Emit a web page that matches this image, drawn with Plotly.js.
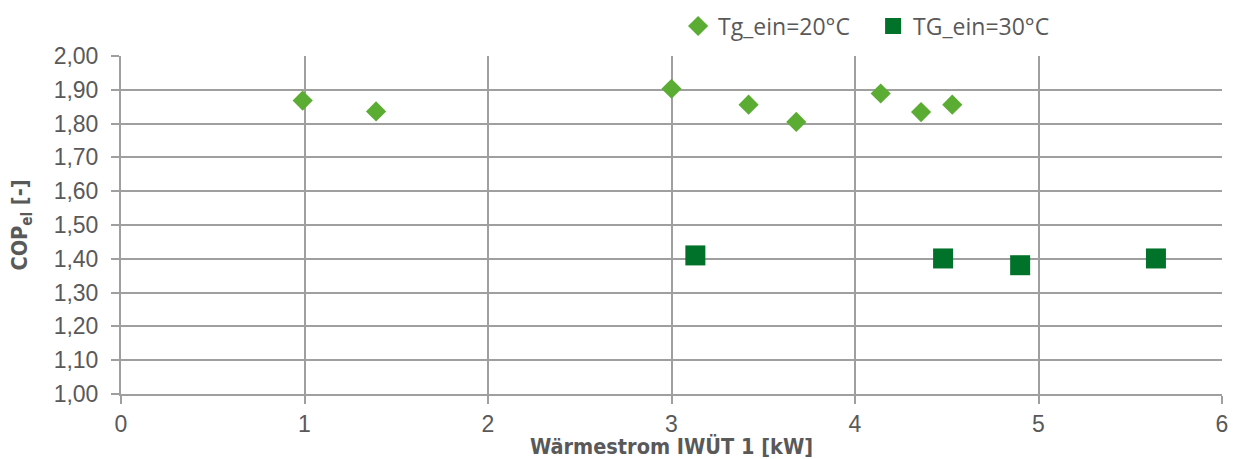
<!DOCTYPE html>
<html>
<head>
<meta charset="utf-8">
<script src="https://cdn.plot.ly/plotly-3.0.1.min.js"></script>
<style>html,body{margin:0;padding:0;background:#fff;}#chart{width:1234px;height:459px;}</style>
</head>
<body>
<div id="chart"></div>
<script>
// Series 1: Tg_ein = 20 °C
const series1Name = "Tg_ein=20°C";
const series1X = [0.99, 1.39, 3.00, 3.42, 3.68, 4.14, 4.36, 4.53];
const series1Y = [1.868, 1.836, 1.903, 1.856, 1.805, 1.889, 1.834, 1.856];

// Series 2: TG_ein = 30 °C
const series2Name = "TG_ein=30°C";
const series2X = [3.13, 4.48, 4.90, 5.64];
const series2Y = [1.410, 1.401, 1.381, 1.401];

const xTicks = [0, 1, 2, 3, 4, 5, 6];
const yTicks = [1.0, 1.1, 1.2, 1.3, 1.4, 1.5, 1.6, 1.7, 1.8, 1.9, 2.0];

const gridColor = "#9f9f9f";
const textColor = "#595959";

const traces = [
  {
    x: series1X, y: series1Y, name: series1Name, type: "scatter", mode: "markers",
    marker: {symbol: "diamond", size: 15.5, color: "#5aac32", line: {width: 0}}
  },
  {
    x: series2X, y: series2Y, name: series2Name, type: "scatter", mode: "markers",
    marker: {symbol: "square", size: 20, color: "#007229", line: {width: 0}}
  }
];

const layout = {
  width: 1234, height: 459,
  paper_bgcolor: "#ffffff", plot_bgcolor: "#ffffff",
  margin: {l: 121, r: 12, t: 56, b: 65, pad: 0},
  font: {family: "Liberation Sans, Arial, sans-serif", color: textColor},
  showlegend: true,
  legend: {
    orientation: "h", x: 0.506, xanchor: "left", y: 0.99, yref: "container", yanchor: "top",
    font: {family: "Open Sans, Noto Sans, sans-serif", size: 23, color: textColor},
    entrywidth: 150, entrywidthmode: "pixels", itemwidth: 30,
    bgcolor: "rgba(0,0,0,0)"
  },
  xaxis: {
    range: [0, 6], tickvals: xTicks, ticktext: xTicks.map(String),
    showgrid: true, gridcolor: gridColor, gridwidth: 1.8,
    showline: true, linecolor: gridColor, linewidth: 2,
    zeroline: false, ticks: "outside", ticklen: 8, tickcolor: gridColor, tickwidth: 1.5,
    tickfont: {family: "Liberation Sans, Arial, sans-serif", size: 23, color: textColor},
    title: {text: "<b>Wärmestrom IWÜT 1 [kW]</b>", standoff: 0,
      font: {family: "DejaVu Sans Condensed, Liberation Sans Narrow, sans-serif", size: 21.5, color: textColor}}
  },
  yaxis: {
    range: [1.0, 2.0], tickvals: yTicks, ticktext: yTicks.map(v => v.toFixed(2).replace(".", ",")),
    showgrid: true, gridcolor: gridColor, gridwidth: 1.8,
    showline: true, linecolor: gridColor, linewidth: 2,
    zeroline: false, ticks: "outside", ticklen: 8, tickcolor: gridColor, tickwidth: 1.5,
    ticklabelstandoff: 8,
    tickfont: {family: "Liberation Sans, Arial, sans-serif", size: 23, color: textColor},
    title: {text: "<b>COP<sub>el</sub> [-]</b>", standoff: 20,
      font: {family: "DejaVu Sans Condensed, Liberation Sans Narrow, sans-serif", size: 21.5, color: textColor}}
  }
};

Plotly.newPlot("chart", traces, layout, {displayModeBar: false, responsive: false});
</script>
</body>
</html>
